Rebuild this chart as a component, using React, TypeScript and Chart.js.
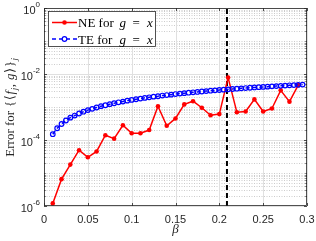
import React, { useEffect, useRef } from 'react';
import { Chart, registerables } from 'chart.js';

Chart.register(...registerables);

// ---------- data ----------
const betaNE = [0.01, 0.02, 0.03, 0.04, 0.05, 0.06, 0.07, 0.08, 0.09, 0.1, 0.11, 0.12, 0.13, 0.14, 0.15, 0.16, 0.17, 0.18, 0.19, 0.2, 0.21, 0.22, 0.23, 0.24, 0.25, 0.26, 0.27, 0.28, 0.29];
const errNE = [1.2e-6, 6.5e-6, 1.8e-5, 4.9e-5, 3.0e-5, 4.5e-5, 1.4e-4, 1.1e-4, 2.8e-4, 1.6e-4, 1.6e-4, 2.0e-4, 1.05e-3, 2.7e-4, 4.5e-4, 1.2e-3, 1.5e-3, 9.5e-4, 5.6e-4, 6.1e-4, 7.8e-3, 6.9e-4, 7.3e-4, 1.7e-3, 7.3e-4, 9.0e-4, 3.2e-3, 1.45e-3, 4.6e-3];

const betaTE = [0.01, 0.015, 0.02, 0.025, 0.03, 0.035, 0.04, 0.045, 0.05, 0.055, 0.06, 0.065, 0.07, 0.075, 0.08, 0.085, 0.09, 0.095, 0.1, 0.105, 0.11, 0.115, 0.12, 0.125, 0.13, 0.135, 0.14, 0.145, 0.15, 0.155, 0.16, 0.165, 0.17, 0.175, 0.18, 0.185, 0.19, 0.195, 0.2, 0.205, 0.21, 0.215, 0.22, 0.225, 0.23, 0.235, 0.24, 0.245, 0.25, 0.255, 0.26, 0.265, 0.27, 0.275, 0.28, 0.285, 0.29, 0.295];
const errTE = [1.5e-4, 2.27e-4, 3.05e-4, 3.9e-4, 4.75e-4, 5.5e-4, 6.35e-4, 7.2e-4, 8.05e-4, 8.8e-4, 9.65e-4, 1.06e-3, 1.13e-3, 1.22e-3, 1.3e-3, 1.39e-3, 1.46e-3, 1.56e-3, 1.64e-3, 1.72e-3, 1.8e-3, 1.89e-3, 1.97e-3, 2.06e-3, 2.12e-3, 2.22e-3, 2.3e-3, 2.37e-3, 2.47e-3, 2.55e-3, 2.63e-3, 2.71e-3, 2.79e-3, 2.86e-3, 2.95e-3, 3.03e-3, 3.12e-3, 3.19e-3, 3.28e-3, 3.35e-3, 3.43e-3, 3.51e-3, 3.59e-3, 3.67e-3, 3.75e-3, 3.83e-3, 3.91e-3, 3.99e-3, 4.06e-3, 4.14e-3, 4.22e-3, 4.3e-3, 4.38e-3, 4.45e-3, 4.54e-3, 4.61e-3, 4.69e-3, 4.77e-3];

const criticalBeta = 0.2087;

const xTicks = [0, 0.05, 0.1, 0.15, 0.2, 0.25, 0.3];
const xTickLabels = ['0', '0.05', '0.1', '0.15', '0.2', '0.25', '0.3'];
const yTickExps = [-6, -4, -2, 0];
const yDecades = [-6, -5, -4, -3, -2, -1, 0];

const legendNE = 'NE for';
const legendTE = 'TE for';

const SERIF = '"Liberation Serif", "DejaVu Serif", serif';
const SANS = '"Liberation Sans", Arial, sans-serif';
const AX = '#262626';

const decor = {
  id: 'decor',
  beforeDatasetsDraw(chart: any) {
    const { ctx, chartArea: a, scales } = chart;
    const x = scales.x, y = scales.y;
    ctx.save();
    ctx.lineWidth = 1;
    // minor y grid (dotted)
    ctx.strokeStyle = 'rgba(0,0,0,0.2)';
    ctx.setLineDash([1, 1.5]);
    for (const d of yDecades) {
      if (d >= 0) continue;
      for (let k = 1; k <= 9; k++) {
        if (k === 1 && yTickExps.includes(d)) continue;
        const py = Math.round(y.getPixelForValue(k * Math.pow(10, d))) + 0.5;
        ctx.beginPath();
        ctx.moveTo(a.left, py);
        ctx.lineTo(a.right, py);
        ctx.stroke();
      }
    }
    // major grid
    ctx.setLineDash([]);
    ctx.strokeStyle = '#e0e0e0';
    for (const t of xTicks) {
      const px = Math.round(x.getPixelForValue(t)) + 0.5;
      ctx.beginPath();
      ctx.moveTo(px, a.top);
      ctx.lineTo(px, a.bottom);
      ctx.stroke();
    }
    for (const e of yTickExps) {
      const py = Math.round(y.getPixelForValue(Math.pow(10, e))) + 0.5;
      ctx.beginPath();
      ctx.moveTo(a.left, py);
      ctx.lineTo(a.right, py);
      ctx.stroke();
    }
    ctx.restore();
  },
  afterDatasetsDraw(chart: any) {
    const { ctx, chartArea: a, scales } = chart;
    const x = scales.x, y = scales.y;
    ctx.save();
    // box
    ctx.strokeStyle = AX;
    ctx.lineWidth = 0.8;
    ctx.strokeRect(Math.round(a.left) + 0.5, Math.round(a.top) + 0.5, Math.round(a.right - a.left) - 1, Math.round(a.bottom - a.top) - 1);
    // x ticks
    ctx.beginPath();
    for (const t of xTicks) {
      const px = Math.round(x.getPixelForValue(t)) + 0.5;
      ctx.moveTo(px, a.bottom);
      ctx.lineTo(px, a.bottom - 3);
      ctx.moveTo(px, a.top);
      ctx.lineTo(px, a.top + 3);
    }
    // y ticks
    for (const d of yDecades) {
      for (let k = 1; k <= 9; k++) {
        if (d === 0 && k > 1) continue;
        const py = Math.round(y.getPixelForValue(k * Math.pow(10, d))) + 0.5;
        const len = k === 1 && yTickExps.includes(d) ? 3 : 1.6;
        ctx.moveTo(a.left, py);
        ctx.lineTo(a.left + len, py);
        ctx.moveTo(a.right, py);
        ctx.lineTo(a.right - len, py);
      }
    }
    ctx.stroke();

    // x tick labels
    ctx.fillStyle = AX;
    ctx.font = `11px ${SANS}`;
    ctx.textAlign = 'center';
    ctx.textBaseline = 'middle';
    xTicks.forEach((t, i) => {
      ctx.fillText(xTickLabels[i], x.getPixelForValue(t), a.bottom + 14);
    });
    // y tick labels
    for (const e of yTickExps) {
      const py = y.getPixelForValue(Math.pow(10, e));
      const ex = String(e);
      ctx.font = `8px ${SANS}`;
      const ew = ctx.measureText(ex).width;
      const right = a.left - 4;
      ctx.textAlign = 'left';
      ctx.textBaseline = 'middle';
      ctx.fillText(ex, right - ew, py - 3);
      ctx.font = `11px ${SANS}`;
      ctx.textAlign = 'right';
      ctx.fillText('10', right - ew, py + 2.5);
    }

    // x axis title
    ctx.font = `italic 13px ${SERIF}`;
    ctx.textAlign = 'center';
    ctx.textBaseline = 'alphabetic';
    ctx.fillStyle = AX;
    ctx.fillText('β', (a.left + a.right) / 2, 233);

    // y axis title
    const pieces = [
      { t: 'Error for ', f: `13px ${SERIF}`, dy: 0 },
      { t: '{', f: `13px ${SERIF}`, dy: 0 },
      { t: '⟨', f: `13px ${SERIF}`, dy: 0 },
      { t: 'f', f: `italic 13px ${SERIF}`, dy: 0 },
      { t: 'j', f: `italic 9px ${SERIF}`, dy: 3 },
      { t: ', ', f: `13px ${SERIF}`, dy: 0 },
      { t: 'g', f: `italic 13px ${SERIF}`, dy: 0 },
      { t: '⟩', f: `13px ${SERIF}`, dy: 0 },
      { t: '}', f: `13px ${SERIF}`, dy: 0 },
      { t: 'j', f: `italic 9px ${SERIF}`, dy: 3 },
    ];
    let total = 0;
    const widths = pieces.map((p) => {
      ctx.font = p.f;
      const w = ctx.measureText(p.t).width + 0.6;
      total += w;
      return w;
    });
    ctx.save();
    ctx.translate(10, (a.top + a.bottom) / 2);
    ctx.rotate(-Math.PI / 2);
    ctx.textAlign = 'left';
    ctx.textBaseline = 'alphabetic';
    let cx = -total / 2;
    pieces.forEach((p, i) => {
      ctx.font = p.f;
      ctx.fillText(p.t, cx, 4 + p.dy);
      cx += widths[i];
    });
    ctx.restore();

    // legend
    const lx = a.left + 4, ly = a.top + 3, lw = 108, lh = 36;
    ctx.fillStyle = '#ffffff';
    ctx.fillRect(lx, ly, lw, lh);
    ctx.strokeStyle = AX;
    ctx.lineWidth = 0.8;
    ctx.strokeRect(lx + 0.5, ly + 0.5, lw - 1, lh - 1);
    const rows = [
      { label: legendNE, y: ly + 11.5, color: '#ff0000', dash: [] as number[], open: false },
      { label: legendTE, y: ly + 28, color: '#0000ff', dash: [4, 3], open: true },
    ];
    for (const r of rows) {
      ctx.strokeStyle = r.color;
      ctx.lineWidth = 1.5;
      ctx.setLineDash(r.dash);
      ctx.beginPath();
      ctx.moveTo(lx + 4, r.y);
      ctx.lineTo(lx + 29, r.y);
      ctx.stroke();
      ctx.setLineDash([]);
      ctx.beginPath();
      ctx.arc(lx + 16.5, r.y, 2.3, 0, Math.PI * 2);
      if (r.open) {
        ctx.lineWidth = 1.2;
        ctx.fillStyle = '#ffffff';
        ctx.fill();
        ctx.stroke();
      } else {
        ctx.fillStyle = r.color;
        ctx.fill();
      }
      const tx = lx + 30;
      const by = r.y + 4.5;
      ctx.fillStyle = '#000000';
      ctx.textAlign = 'left';
      ctx.textBaseline = 'alphabetic';
      ctx.font = `13px ${SERIF}`;
      ctx.fillText(r.label, tx, by);
      ctx.font = `italic 13px ${SERIF}`;
      ctx.fillText('g', tx + 41.5, by);
      ctx.font = `13px ${SERIF}`;
      ctx.fillText('=', tx + 54.5, by);
      ctx.font = `italic 13px ${SERIF}`;
      ctx.fillText('x', tx + 69, by);
    }
    ctx.restore();
  },
};

export default function App() {
  const ref = useRef<HTMLCanvasElement>(null);
  useEffect(() => {
    document.body.style.margin = '0';
    const chart = new Chart(ref.current as HTMLCanvasElement, {
      type: 'scatter',
      data: {
        datasets: [
          {
            label: 'TE',
            data: betaTE.map((b, i) => ({ x: b, y: errTE[i] })),
            showLine: true,
            borderColor: '#0000ff',
            borderWidth: 1.5,
            borderDash: [4, 3],
            pointRadius: 2.3,
            pointBorderWidth: 1.2,
            pointBorderColor: '#0000ff',
            pointBackgroundColor: 'rgba(0,0,0,0)',
            order: 0,
          },
          {
            label: 'NE',
            data: betaNE.map((b, i) => ({ x: b, y: errNE[i] })),
            showLine: true,
            borderColor: '#ff0000',
            borderWidth: 1.5,
            pointRadius: 2.3,
            pointBorderWidth: 0,
            pointBackgroundColor: '#ff0000',
            order: 1,
          },
          {
            label: 'critical',
            data: [
              { x: criticalBeta, y: 1e-6 },
              { x: criticalBeta, y: 1 },
            ],
            showLine: true,
            borderColor: '#000000',
            borderWidth: 2,
            borderDash: [5, 3],
            pointRadius: 0,
            order: 2,
          },
        ],
      },
      options: {
        animation: false,
        responsive: false,
        devicePixelRatio: 1,
        layout: { padding: { left: 44, right: 9, top: 8, bottom: 35 } },
        scales: {
          x: { type: 'linear', min: 0, max: 0.3, display: false },
          y: { type: 'logarithmic', min: 1e-6, max: 1, display: false },
        },
        plugins: {
          legend: { display: false },
          tooltip: { enabled: false },
        },
      },
      plugins: [decor],
    });
    return () => chart.destroy();
  }, []);
  return (
    <canvas
      ref={ref}
      width={316}
      height={241}
      style={{ display: 'block', width: 316, height: 241 }}
    />
  );
}
